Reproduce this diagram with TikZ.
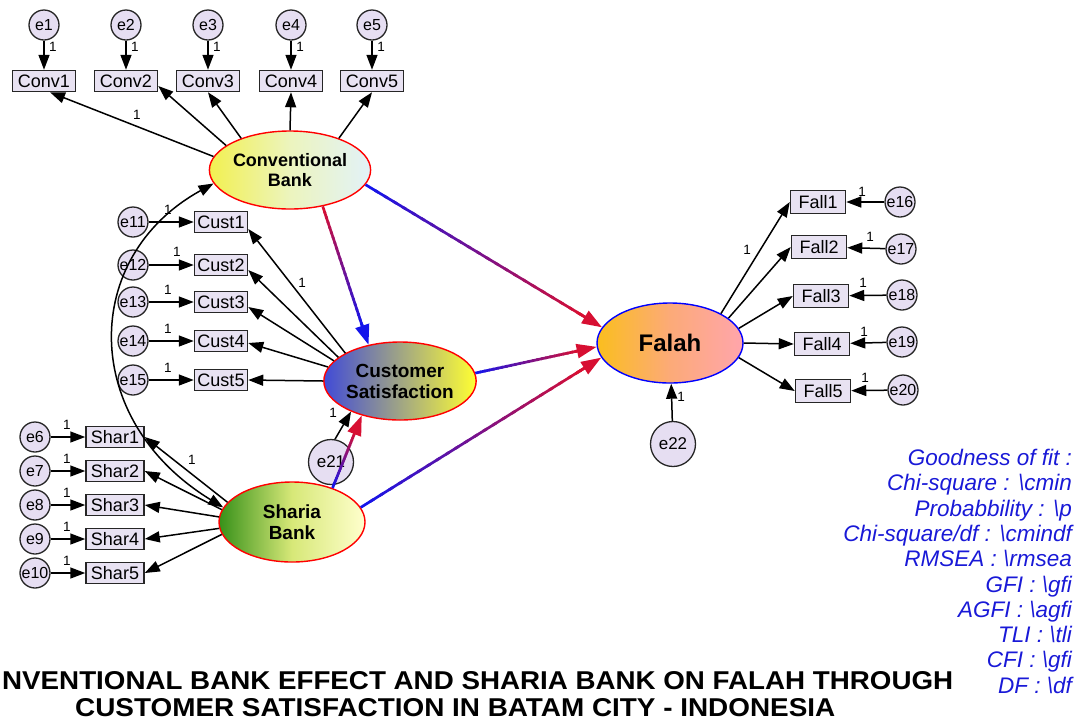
\documentclass[tikz,border=0pt]{standalone}
\usepackage{fontspec}
\setmainfont{Liberation Sans}
\usetikzlibrary{arrows.meta,calc,shapes.geometric}
\definecolor{lav}{RGB}{230,222,242}
\definecolor{boxfill}{RGB}{232,226,242}
\definecolor{crim}{RGB}{215,15,50}
\definecolor{gblue}{RGB}{20,20,235}
\definecolor{fitblue}{RGB}{25,25,215}
\newcommand{\GradArrow}[4]{%
  \coordinate (gA) at (#1);
  \coordinate (gT) at (#2);
  \coordinate (gB) at ($(gT)!17pt!(gA)$);
  \foreach \k in {0,...,23}{%
    \pgfmathsetmacro\ta{\k/24}%
    \pgfmathsetmacro\tb{min((\k+1.4)/24,1)}%
    \pgfmathsetmacro\pc{100-\k*100/23}%
    \draw[line width=2.7pt, draw=#3!\pc!#4] ($(gA)!\ta!(gB)$) -- ($(gA)!\tb!(gB)$);
  }%
  \draw[-{Triangle[length=20pt,width=14pt]}, line width=2.7pt, draw=#4, fill=#4] ($(gA)!0.95!(gB)$) -- (gT);
}
\tikzset{
  eob/.style={circle, draw=black!85, line width=1.3pt, fill=lav, minimum size=30pt, inner sep=0pt, font=\fontsize{16}{16}\selectfont},
  ebig/.style={eob, minimum size=45pt, font=\fontsize{17}{17}\selectfont},
  obs/.style={rectangle, draw=black!85, line width=1.5pt, fill=boxfill, minimum height=21pt, inner sep=1pt, font=\fontsize{18}{18}\selectfont},
  lat/.style={ellipse, draw=red, line width=1.4pt, minimum width=146pt, minimum height=78pt, inner sep=0pt, align=center},
  arr/.style={-{Triangle[length=15pt,width=11pt]}, line width=1.5pt, draw=black},
  one/.style={font=\fontsize{13.5}{13.5}\selectfont, inner sep=0pt},
}
\begin{document}
\begin{tikzpicture}[x=1pt,y=-1pt]
\useasboundingbox (0,0) rectangle (1078,724);
% latent variables
\node[lat, left color={rgb,255:red,242;green,240;blue,80}, right color={rgb,255:red,226;green,242;blue,248}, middle color={rgb,255:red,236;green,244;blue,190}, font=\bfseries\fontsize{18}{19.5}\selectfont] (cb) at (290,170) {Conventional\\Bank};
\node[lat, left color={rgb,255:red,65;green,75;blue,215}, right color={rgb,255:red,255;green,255;blue,50}, font=\bfseries\fontsize{19}{21}\selectfont] (cs) at (400,381) {Customer\\Satisfaction};
\node[lat, minimum height=80pt, left color={rgb,255:red,55;green,145;blue,25}, right color={rgb,255:red,255;green,255;blue,205}, middle color={rgb,255:red,215;green,232;blue,120}, font=\bfseries\fontsize{19}{21}\selectfont] (sb) at (292,522) {Sharia\\Bank};
\node[lat, draw=blue, minimum height=80pt, left color={rgb,255:red,250;green,190;blue,30}, right color={rgb,255:red,255;green,165;blue,172}, middle color={rgb,255:red,252;green,170;blue,120}, font=\bfseries\fontsize{24}{24}\selectfont] (fa) at (670,343) {Falah};
% Conv
\foreach \i/\x in {1/44,2/126,3/208,4/291,5/372}{
  \node[obs, minimum width=63pt] (conv\i) at (\x,81) {Conv\i};
  \node[eob] (e\i) at (\x,25) {e\i};
  \draw[arr] (e\i) -- (conv\i);
  \node[one] at (\x+9,47) {1};
}
% Cust
\foreach \i/\y in {1/222,2/265,3/302,4/341,5/380}{
  \pgfmathtruncatemacro\en{\i+10}
  \node[obs, minimum width=53pt] (cust\i) at (221,\y) {Cust\i};
  \node[eob] (e\en) at (133,\y) {e\en};
  \draw[arr] (e\en) -- (cust\i);
}
\node[one] at (168,210) {1};
\node[one] at (177,252) {1};
\node[one] at (168,290) {1};
\node[one] at (168,329) {1};
\node[one] at (168,368) {1};
% Shar
\foreach \i/\y in {1/437,2/471,3/505,4/539,5/573}{
  \pgfmathtruncatemacro\en{\i+5}
  \node[obs, minimum width=58pt] (shar\i) at (115,\y) {Shar\i};
  \node[eob] (e\en) at (35,\y) {e\en};
  \draw[arr] (e\en) -- (shar\i);
  \node[one] at (67,\y-12) {1};
}
% Fall
\foreach \i/\x/\y/\ex/\ey/\lx/\ly in {1/818/202/900/202/862/192, 2/819/247/901/249/870/237, 3/821/296/902/295/863/283, 4/822/344/902/342/864/332, 5/823/391/903/390/865/378}{
  \pgfmathtruncatemacro\en{\i+15}
  \node[obs, minimum width=55pt, minimum height=23pt] (fall\i) at (\x,\y) {Fall\i};
  \node[eob] (e\en) at (\ex,\ey) {e\en};
  \draw[arr] (e\en) -- (fall\i);
  \node[one] at (\lx,\ly) {1};
}
% disturbances
\node[ebig] (e21) at (331,462) {e21};
\node[ebig] (e22) at (673,444) {e22};
\draw[arr] (e22) -- (fa);
\node[one] at (681,397) {1};
\draw[arr] (e21.80) -- (cs.212);
\node[one] at (333,413) {1};
% loadings
\draw[arr] (cb.170) -- ([xshift=6pt]conv1.south);
\draw[arr] (cb.159) -- ([yshift=-5pt]conv2.east);
\draw[arr] (cb.147) -- (conv3.south);
\draw[arr] (cb.90) -- (conv4.south);
\draw[arr] (cb.33) -- (conv5.south);
\node[one] at (137,115) {1};
\draw[arr] (cs.153) -- ([yshift=-7pt]cust1.east);
\draw[arr] (cs.159) -- ([yshift=-5pt]cust2.east);
\draw[arr] (cs.163) -- ([yshift=-5pt]cust3.east);
\draw[arr] (cs.169) -- ([yshift=-2pt]cust4.east);
\draw[arr] (cs.180) -- (cust5.east);
\node[one] at (302,283) {1};
\draw[arr] (sb.163) -- (shar1.east);
\draw[arr] (sb.170) -- (shar2.east);
\draw[arr] (sb.176) -- (shar3.east);
\draw[arr] (sb.185) -- (shar4.east);
\draw[arr] (sb.190) -- (shar5.east);
\node[one] at (192,460) {1};
\draw[arr] (fa.30) -- (fall1.west);
\draw[arr] (fa.23) -- (fall2.west);
\draw[arr] (fa.12) -- (fall3.west);
\draw[arr] (fa.0) -- (fall4.west);
\draw[arr] (fa.-12) -- (fall5.west);
\node[one] at (747,250) {1};
% covariance
\draw[{Triangle[length=15pt,width=11pt]}-{Triangle[length=15pt,width=11pt]}, line width=1.5pt] (sb.168) .. controls (80,420) and (80,257) .. (cb.190);
% structural paths
\GradArrow{cb.-48}{cs.131}{crim}{gblue}
\GradArrow{cb.-11}{fa.167}{gblue}{crim}
\GradArrow{cs.6}{fa.183}{gblue}{crim}
\GradArrow{sb.12}{fa.192}{gblue}{crim}
\GradArrow{sb.40}{cs.222}{gblue}{crim}
% fit text
\node[anchor=north east, align=right, text=fitblue, inner sep=0pt, font=\itshape\fontsize{22.5}{25.3}\selectfont] (fit) at (1072,449) {Goodness of fit :\\Chi-square : \textbackslash cmin\\Probabbility : \textbackslash p\\Chi-square/df : \textbackslash cmindf\\RMSEA : \textbackslash rmsea\\GFI : \textbackslash gfi\\AGFI : \textbackslash agfi\\TLI : \textbackslash tli\\CFI : \textbackslash gfi\\DF : \textbackslash df};
% title
\node[anchor=west, inner sep=0pt] (t1) at (2,681) {\resizebox{951pt}{18pt}{\bfseries NVENTIONAL BANK EFFECT AND SHARIA BANK ON FALAH THROUGH}};
\node[anchor=west, inner sep=0pt] (t2) at (75,708) {\resizebox{760pt}{18pt}{\bfseries CUSTOMER SATISFACTION IN BATAM CITY - INDONESIA}};
\end{tikzpicture}
\end{document}
